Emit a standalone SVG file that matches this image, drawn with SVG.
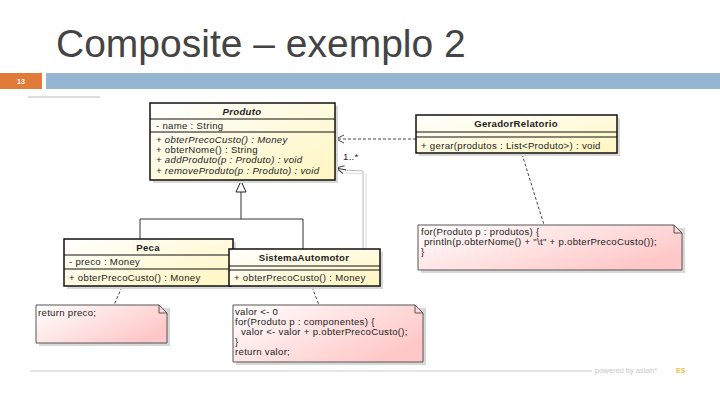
<svg xmlns="http://www.w3.org/2000/svg" width="720" height="405" viewBox="0 0 720 405">
<defs>
<linearGradient id="cls" x1="0" y1="0" x2="1" y2="1"><stop offset="0" stop-color="#ffffff"/><stop offset="1" stop-color="#fff6bf"/></linearGradient>
<linearGradient id="note" x1="0" y1="0" x2="1" y2="0.6"><stop offset="0" stop-color="#ffffff"/><stop offset="1" stop-color="#ffc8c8"/></linearGradient>
<marker id="open" markerWidth="10" markerHeight="10" refX="9" refY="5" orient="auto" markerUnits="userSpaceOnUse"><path d="M1,1 L9,5 L1,9" fill="none" stroke="#444" stroke-width="1"/></marker>
<marker id="tri" markerWidth="14" markerHeight="12" refX="12" refY="6" orient="auto" markerUnits="userSpaceOnUse"><path d="M1,1 L12,6 L1,11 Z" fill="#fff" stroke="#222" stroke-width="1"/></marker>
</defs>
<style>
.t{font-family:"Liberation Sans",Arial,sans-serif;font-size:9.6px;letter-spacing:0.3px;fill:#222}
.b{font-weight:bold;text-anchor:middle}
.i{font-style:italic}
.box{fill:url(#cls);stroke:#111;stroke-width:1.5}
.sh{fill:#d8d8d8}
.sep{stroke:#111;stroke-width:1}
.nt{fill:url(#note);stroke:#555;stroke-width:1}
.c{fill:none;stroke:#333;stroke-width:1}
.d{fill:none;stroke:#444;stroke-width:1;stroke-dasharray:3,2}
</style>
<rect width="720" height="405" fill="#fff"/>
<text x="56" y="57" font-family="Liberation Sans,Arial,sans-serif" font-size="39" fill="#444">Composite – exemplo 2</text>
<rect x="0" y="73" width="42" height="16" fill="#e07b39"/>
<text x="21" y="84" font-family="Liberation Sans,Arial,sans-serif" font-size="7" fill="#fff" text-anchor="middle" font-weight="bold">13</text>
<rect x="46" y="73" width="674" height="16" fill="#94b6d3"/>
<line x1="28" y1="97" x2="100" y2="97" stroke="#bbb" stroke-width="1"/>
<line x1="30" y1="371" x2="592" y2="371" stroke="#ccc" stroke-width="1"/>
<text x="595" y="373" font-family="Liberation Sans,Arial,sans-serif" font-size="7.5" fill="#c8c8c8">powered by astah*</text>
<text x="676" y="373" font-family="Liberation Sans,Arial,sans-serif" font-size="7" fill="#f0c040" font-weight="bold">ES</text>

<g id="connectors">
<polyline class="c" points="140,239 140,219 303,219 303,249"/>
<line class="c" x1="241" y1="219" x2="241" y2="181" marker-end="url(#tri)"/>
<line class="d" x1="416" y1="139" x2="336" y2="139" marker-end="url(#open)"/>
<polyline fill="none" stroke="#bbb" stroke-width="1" points="363,249 363,171 345,170"/>
<polyline fill="none" stroke="#ddd" stroke-width="1" points="366,249 366,174 346,173"/>
<line class="c" stroke="#888" x1="346" y1="170" x2="336" y2="168" marker-end="url(#open)"/>
<text class="t" x="343" y="160">1..*</text>
<line class="d" x1="522" y1="154" x2="544" y2="225"/>
<line class="d" x1="122" y1="287" x2="114" y2="305"/>
<line class="d" x1="312" y1="287" x2="319" y2="305"/>
</g>

<g id="Produto">
<rect class="sh" x="153" y="106" width="185" height="77"/>
<rect class="box" x="150" y="103" width="185" height="77"/>
<line class="sep" x1="150" y1="119" x2="335" y2="119"/>
<line class="sep" x1="150" y1="132" x2="335" y2="132"/>
<text class="t b i" x="242" y="115">Produto</text>
<text class="t" x="156" y="129">- name : String</text>
<text class="t i" x="156" y="143">+ obterPrecoCusto() : Money</text>
<text class="t" x="156" y="153">+ obterNome() : String</text>
<text class="t i" x="156" y="163">+ addProduto(p : Produto) : void</text>
<text class="t i" x="156" y="174">+ removeProduto(p : Produto) : void</text>
</g>

<g id="GeradorRelatorio">
<rect class="sh" x="419" y="118" width="201" height="38"/>
<rect class="box" x="416" y="115" width="201" height="38"/>
<line class="sep" x1="416" y1="132" x2="617" y2="132"/>
<line class="sep" x1="416" y1="137" x2="617" y2="137"/>
<text class="t b" x="516" y="127">GeradorRelatorio</text>
<text class="t" x="421" y="149" letter-spacing="0.1">+ gerar(produtos : List&lt;Produto&gt;) : void</text>
</g>

<g id="Peca">
<rect class="sh" x="67" y="242" width="169" height="47"/>
<rect class="box" x="64" y="239" width="169" height="47"/>
<line class="sep" x1="64" y1="255" x2="233" y2="255"/>
<line class="sep" x1="64" y1="269" x2="233" y2="269"/>
<text class="t b" x="148" y="251">Peca</text>
<text class="t" x="69" y="265">- preco : Money</text>
<text class="t" x="69" y="281">+ obterPrecoCusto() : Money</text>
</g>

<g id="SistemaAutomotor">
<rect class="sh" x="232" y="252" width="151" height="37"/>
<rect class="box" x="229" y="249" width="151" height="37"/>
<line class="sep" x1="229" y1="266" x2="380" y2="266"/>
<line class="sep" x1="229" y1="270" x2="380" y2="270"/>
<text class="t b" x="304" y="261">SistemaAutomotor</text>
<text class="t" x="234" y="281">+ obterPrecoCusto() : Money</text>
</g>

<g id="note1">
<path class="sh" d="M421,228 H685 V273 H421 Z"/>
<path class="nt" d="M418,225 H674 L682,233 V270 H418 Z"/>
<path d="M674,225 V233 H682" fill="none" stroke="#555" stroke-width="1"/>
<text class="t" x="421" y="235">for(Produto p : produtos) {</text>
<text class="t" x="421" y="245" xml:space="preserve"> println(p.obterNome() + "\t" + p.obterPrecoCusto());</text>
<text class="t" x="421" y="255">}</text>
</g>

<g id="note2">
<path class="sh" d="M39,308 H170 V346 H39 Z"/>
<path class="nt" d="M36,305 H159 L167,313 V343 H36 Z"/>
<path d="M159,305 V313 H167" fill="none" stroke="#555" stroke-width="1"/>
<text class="t" x="38" y="316">return preco;</text>
</g>

<g id="note3">
<path class="sh" d="M236,308 H426 V365 H236 Z"/>
<path class="nt" d="M233,305 H415 L423,313 V362 H233 Z"/>
<path d="M415,305 V313 H423" fill="none" stroke="#555" stroke-width="1"/>
<text class="t" x="235" y="315">valor &lt;- 0</text>
<text class="t" x="235" y="325">for(Produto p : componentes) {</text>
<text class="t" x="235" y="335" xml:space="preserve">  valor &lt;- valor + p.obterPrecoCusto();</text>
<text class="t" x="235" y="345">}</text>
<text class="t" x="235" y="355">return valor;</text>
</g>
</svg>
